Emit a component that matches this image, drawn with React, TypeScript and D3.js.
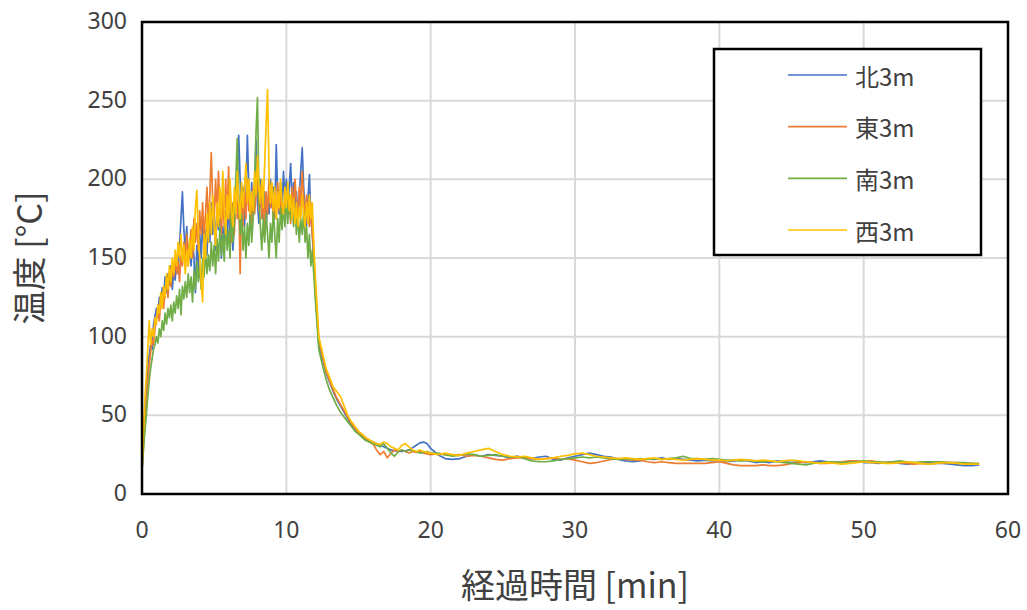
import React from "react";
import * as d3 from "d3";

// sample times [min]: 0-12 every 0.1, 12.25-20 every 0.25, 20.5-58 every 0.5
const timesA = d3.range(0, 121).map((i) => i / 10);
const timesB = d3.range(0, 32).map((i) => 12.25 + i * 0.25);
const timesC = d3.range(0, 76).map((i) => 20.5 + i * 0.5);
const times = [...timesA, ...timesB, ...timesC];

const xTicks = [0, 10, 20, 30, 40, 50, 60];
const yTicks = [0, 50, 100, 150, 200, 250, 300];

// 北3m
const north = [
  15, 35, 52, 66, 80, 88, 95, 92, 108, 113,
  118, 112, 125, 120, 131, 125, 138, 128, 140, 133,
  145, 130, 142, 136, 150, 140, 158, 175, 192, 168,
  155, 170, 148, 160, 145, 162, 150, 128, 158, 140,
  165, 150, 172, 158, 168, 152, 176, 160, 185, 165,
  178, 155, 182, 168, 175, 150, 170, 160, 180, 162,
  185, 165, 178, 155, 172, 190, 205, 228, 200, 178,
  195, 170, 188, 228, 195, 175, 198, 180, 195, 225,
  185, 172, 200, 180, 175, 192, 170, 185, 178, 200,
  182, 195, 175, 222, 190, 178, 198, 180, 205, 188,
  200, 182, 195, 210, 185, 198, 180, 192, 175, 190,
  205, 220, 195, 180, 170, 188, 203, 175, 165, 150,
  130,
  95, 86, 77, 71, 65, 60, 56, 52, 48, 44,
  41, 39, 37, 35, 34, 33, 32, 31, 30, 29,
  28, 27.5, 27, 27, 27.5, 28, 29.5, 31, 32.5, 33,
  32, 29,
  25, 22.5, 22, 22.5, 24, 25, 24, 25, 24.5, 24,
  23, 24, 23, 22.5, 23.5, 24, 22, 21.5, 23, 24,
  25, 26, 25, 24, 23.5, 22, 21, 20.5, 21, 22.5,
  22, 23, 22, 22.5, 22, 21.5, 21, 21.5, 21, 21,
  20.5, 21, 21.5, 21, 20, 20.5, 20, 21, 20.5, 20,
  20.5, 20, 20.5, 21, 20.5, 20, 20, 20.5, 21, 20,
  20, 19.5, 20, 20.5, 19.5, 19, 19.5, 20, 20, 19.5,
  19.5, 19, 18.5, 18, 18, 18.5,
];

// 東3m
const east = [
  15, 30, 45, 55, 70, 82, 90, 98, 95, 105,
  112, 118, 110, 122, 128, 118, 130, 135, 125, 140,
  132, 145, 138, 150, 140, 148, 135, 152, 145, 160,
  150, 165, 145, 158, 168, 150, 175, 160, 172, 155,
  180, 165, 185, 162, 178, 195, 170, 190, 217, 185,
  175, 200, 178, 205, 180, 165, 188, 170, 200, 175,
  208, 180, 160, 185, 165, 195, 175, 190, 140, 185,
  170, 195, 175, 200, 180, 190, 170, 195, 178, 190,
  205, 180, 195, 175, 188, 170, 192, 178, 200, 182,
  195, 172, 188, 175, 198, 180, 192, 170, 185, 175,
  192, 178, 188, 172, 195, 180, 200, 185, 178, 195,
  182, 205, 188, 175, 190, 180, 170, 185, 165, 155,
  130,
  97, 88, 78, 72, 66, 61, 57, 53, 49, 45,
  42, 39, 37, 35, 33, 32, 28, 25, 27, 23,
  26, 28, 27, 28, 27, 26, 27, 26.5, 27, 26,
  25.5, 25,
  25.5, 25, 24.5, 25, 24, 24.5, 24, 23, 22, 21.5,
  22.5, 23, 23, 22.5, 22, 22.5, 23, 22, 22.5, 21.5,
  20.5, 19.5, 20, 21, 22, 22.5, 22, 21.5, 21.5, 20.5,
  20, 20.5, 20, 19.5, 19.5, 19.5, 19.5, 19.5, 20, 20.5,
  19.5, 18.5, 18, 18, 18, 18.5, 18, 18, 18.5, 19.5,
  20, 20.5, 20, 19.5, 19.5, 20, 20.5, 21, 21, 20.5,
  21, 20.5, 20, 20.5, 20, 19.5, 19, 19.5, 19, 19.5,
  20, 20, 20, 19.5, 19.5, 19,
];

// 南3m
const south = [
  15, 28, 40, 50, 62, 72, 80, 86, 92, 95,
  100, 96, 105, 100, 110, 104, 115, 108, 118, 112,
  120, 110, 122, 115, 126, 118, 130, 114, 132, 124,
  135, 125, 140, 128, 138, 122, 142, 130, 148, 135,
  145, 130, 150, 138, 155, 140, 152, 142, 160, 145,
  158, 140, 162, 148, 170, 152, 165, 148, 175, 155,
  168, 150, 185, 160, 175, 200, 226, 190, 165, 178,
  155, 170, 150, 172, 158, 180, 160, 175, 195, 230,
  252, 190, 170, 155, 175, 160, 178, 165, 150, 172,
  160, 180, 165, 150, 175, 160, 182, 168, 185, 170,
  188, 172, 190, 175, 185, 170, 182, 165, 178, 160,
  175, 165, 180, 160, 170, 150, 165, 145, 155, 140,
  125,
  92, 82, 73, 66, 61, 56, 52, 49, 46, 43,
  40, 38, 36, 34, 33, 32, 31, 30, 32, 29,
  26, 24, 27, 28, 27, 28, 27.5, 27, 26, 26.5,
  27, 26,
  26, 25, 24, 24.5, 25.5, 25, 24, 24.5, 25, 24,
  23.5, 24, 22.5, 21, 20.5, 20.5, 21, 22, 22.5, 23,
  23.5, 23, 23.5, 23, 22.5, 22, 22.5, 22, 22.5, 22,
  22.5, 22, 22.5, 23, 24, 22.5, 22.5, 22, 22.5, 22,
  21.5, 21.5, 21, 21.5, 21, 20.5, 21, 20.5, 20, 19.5,
  19, 18.5, 19.5, 20, 20.5, 20.5, 20, 20.5, 20.5, 21,
  20.5, 20.5, 20, 20.5, 21, 20.5, 20, 20.5, 20.5, 20.5,
  20.5, 20, 20, 20, 19.5, 19.5,
];

// 西3m
const west = [
  15, 40, 60, 75, 92, 110, 95, 105, 100, 112,
  108, 120, 115, 128, 118, 132, 125, 140, 130, 145,
  135, 150, 140, 155, 145, 160, 150, 165, 148, 158,
  140, 155, 145, 162, 150, 170, 155, 182, 193, 165,
  150, 135, 122, 165, 150, 178, 160, 185, 165, 190,
  170, 158, 185, 170, 195, 175, 205, 180, 165, 190,
  175, 200, 180, 170, 195, 178, 205, 185, 175, 198,
  182, 195, 210, 185, 200, 178, 192, 180, 205, 190,
  215, 195, 185, 200, 182, 210, 235, 257, 205, 185,
  198, 180, 195, 175, 192, 182, 200, 185, 178, 195,
  182, 198, 180, 190, 175, 188, 172, 185, 170, 182,
  175, 190, 178, 170, 185, 172, 190, 175, 185, 160,
  140,
  100, 90, 80, 74, 68, 65, 62, 56, 50, 46,
  43, 40, 38, 36, 34.5, 33, 32, 31.5, 33, 32,
  30, 29, 28, 31, 32, 30, 28, 27, 28, 27,
  26.5, 26,
  25, 26, 25, 24.5, 26, 27, 28, 29, 27, 25,
  24, 23.5, 24, 23, 22, 22.5, 23, 24, 24.5, 25.5,
  26, 25, 24, 23.5, 23, 22.5, 23, 22.5, 22, 22.5,
  23, 22, 22.5, 22, 21.5, 22, 22.5, 22, 21.5, 21.5,
  21, 21.5, 22, 21.5, 21, 21.5, 21, 20.5, 21, 21.5,
  21, 20.5, 20, 19.5, 20, 19.5, 19, 19.5, 20, 20.5,
  20, 20, 19.5, 19.5, 20, 20.5, 20, 19.5, 19, 19.5,
  20, 20, 19.5, 19, 19, 19,
];

const seriesNames = ["北3m", "東3m", "南3m", "西3m"];
const seriesColors = ["#4472C4", "#ED7D31", "#70AD47", "#FFC000"];
const seriesValues = [north, east, south, west];

const W = 1027;
const H = 610;
const plot = { left: 142, top: 22, right: 1008, bottom: 494 };

export default function App() {
  const x = d3.scaleLinear().domain([0, 60]).range([plot.left, plot.right]);
  const y = d3.scaleLinear().domain([0, 300]).range([plot.bottom, plot.top]);

  const line = d3
    .line<[number, number]>()
    .x((d) => x(d[0]))
    .y((d) => y(d[1]));

  const series = seriesNames.map((name, i) => ({
    name,
    color: seriesColors[i],
    points: seriesValues[i]
      .slice(0, times.length)
      .map((v, j) => [times[j], v] as [number, number]),
  }));

  const legend = { x: 714, y: 49, w: 267, h: 206 };
  const legendY = d3
    .scalePoint<string>()
    .domain(seriesNames)
    .range([legend.y + 26, legend.y + 181]);

  const textColor = "#404040";

  return (
    <svg
      width={W}
      height={H}
      style={{ position: "absolute", left: 0, top: 0, background: "#fff" }}
    >
      {/* grid */}
      {xTicks.slice(1, -1).map((t) => (
        <line
          key={"gx" + t}
          x1={x(t)}
          x2={x(t)}
          y1={plot.top}
          y2={plot.bottom}
          stroke="#d9d9d9"
          strokeWidth={2}
        />
      ))}
      {yTicks.slice(1, -1).map((t) => (
        <line
          key={"gy" + t}
          x1={plot.left}
          x2={plot.right}
          y1={y(t)}
          y2={y(t)}
          stroke="#d9d9d9"
          strokeWidth={2}
        />
      ))}

      {/* series */}
      {series.map((s) => (
        <path
          key={s.name}
          d={line(s.points) || ""}
          fill="none"
          stroke={s.color}
          strokeWidth={1.7}
          strokeLinejoin="round"
        />
      ))}

      {/* frame */}
      <rect
        x={plot.left}
        y={plot.top}
        width={plot.right - plot.left}
        height={plot.bottom - plot.top}
        fill="none"
        stroke="#000"
        strokeWidth={2.5}
      />

      {/* y tick labels */}
      {yTicks.map((t) => (
        <text
          key={"ty" + t}
          x={127}
          y={y(t) - 2}
          textAnchor="end"
          dominantBaseline="central"
          fontFamily="'Noto Sans', sans-serif"
          fontSize={23}
          fill={textColor}
        >
          {t}
        </text>
      ))}

      {/* x tick labels */}
      {xTicks.map((t) => (
        <text
          key={"tx" + t}
          x={x(t)}
          y={538}
          textAnchor="middle"
          fontFamily="'Noto Sans', sans-serif"
          fontSize={23}
          fill={textColor}
        >
          {t}
        </text>
      ))}

      {/* axis titles */}
      <text
        x={575}
        y={598}
        textAnchor="middle"
        fontFamily="'Noto Sans CJK JP', sans-serif"
        fontSize={34}
        fill={textColor}
      >
        経過時間 [min]
      </text>
      <text
        transform={`translate(42,258) rotate(-90)`}
        textAnchor="middle"
        fontFamily="'Noto Sans CJK JP', sans-serif"
        fontSize={34}
        fill={textColor}
      >
        温度 [°C]
      </text>

      {/* legend */}
      <rect
        x={legend.x}
        y={legend.y}
        width={legend.w}
        height={legend.h}
        fill="#fff"
        stroke="#000"
        strokeWidth={2.5}
      />
      {series.map((s) => (
        <g key={"lg" + s.name}>
          <line
            x1={788}
            x2={847}
            y1={legendY(s.name)}
            y2={legendY(s.name)}
            stroke={s.color}
            strokeWidth={1.7}
          />
          <text
            x={855}
            y={legendY(s.name)}
            dominantBaseline="central"
            fontFamily="'Noto Sans CJK JP', sans-serif"
            fontSize={24}
            fill={textColor}
          >
            {s.name}
          </text>
        </g>
      ))}
    </svg>
  );
}
